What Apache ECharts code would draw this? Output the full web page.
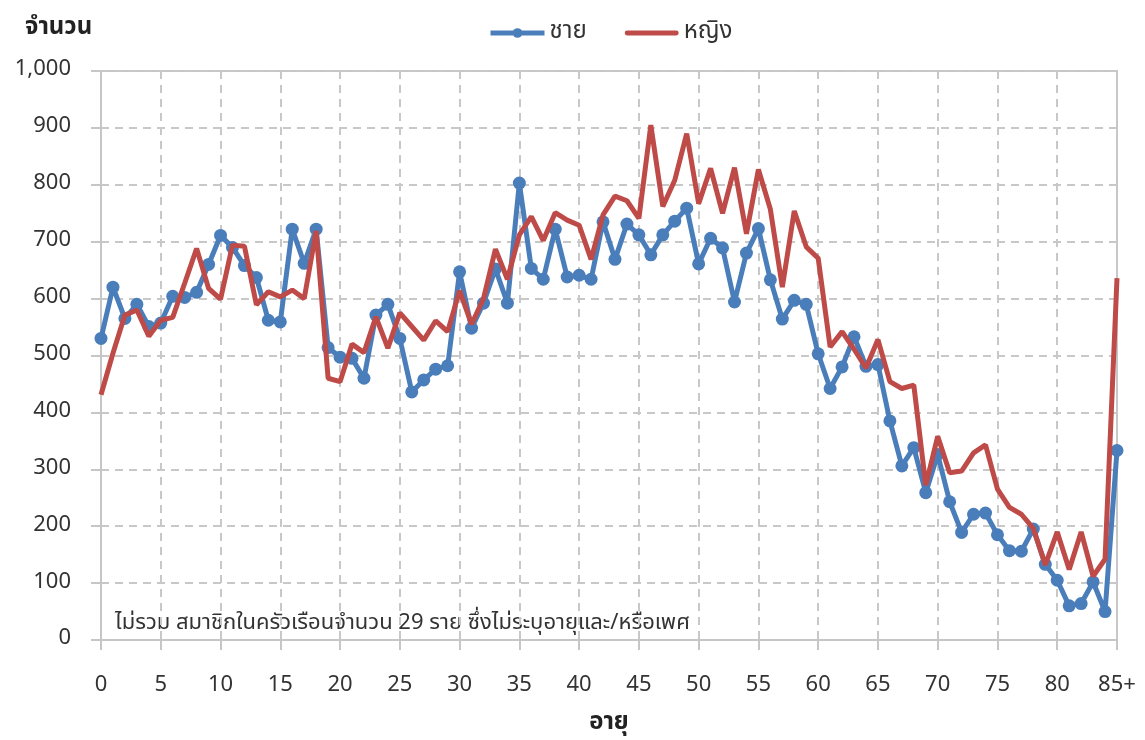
<!DOCTYPE html>
<html>
<head>
<meta charset="utf-8">
<script src="https://cdn.jsdelivr.net/npm/echarts@6/dist/echarts.min.js"></script>
<style>
  html, body { margin: 0; padding: 0; background: #fff; }
  #chart { width: 1145px; height: 740px; }
</style>
</head>
<body>
<div id="chart"></div>
<script>
const ages = []
for (let a = 0; a < 85; a++) ages.push(String(a))
ages.push('85+')

const male = [
  530, 620, 565, 590, 551, 557, 604, 602, 611, 660,
  711, 690, 658, 637, 562, 559, 722, 662, 722, 514,
  497, 495, 460, 571, 590, 530, 436, 457, 476, 482,
  647, 548, 592, 652, 592, 803, 653, 634, 722, 638,
  641, 634, 735, 669, 731, 712, 677, 712, 736, 759,
  661, 706, 689, 594, 680, 723, 633, 564, 597, 590,
  503, 442, 480, 533, 481, 484, 385, 306, 338, 259,
  326, 243, 189, 221, 223, 185, 157, 156, 195, 133,
  105, 60, 64, 102, 50, 333
]

const female = [
  431, 504, 571, 580, 534, 562, 567, 627, 688, 618,
  599, 694, 692, 589, 612, 603, 615, 600, 719, 460,
  454, 520, 505, 568, 513, 575, 551, 527, 561, 542,
  614, 555, 600, 687, 634, 712, 744, 702, 751, 738,
  729, 669, 747, 780, 772, 741, 905, 762, 808, 890,
  767, 829, 750, 830, 714, 827, 757, 620, 754, 691,
  671, 515, 542, 511, 478, 528, 454, 442, 448, 272,
  358, 294, 297, 329, 343, 265, 233, 221, 196, 132,
  190, 124, 190, 112, 142, 636
]

const FONT = 'Tahoma, "Noto Sans Thai", "Noto Sans", "DejaVu Sans", sans-serif'
const BLUE = '#4a7ebb'
const RED = '#be4b48'
const AXIS_GRAY = '#c6c6c6'

const chart = echarts.init(document.getElementById('chart'))

chart.setOption({
  animation: false,
  textStyle: { fontFamily: FONT },
  title: {
    text: 'จำนวน',
    left: 20,
    top: 12,
    textStyle: { fontSize: 24, fontWeight: 'bold', color: '#222', fontFamily: FONT },
  },
  legend: {
    top: 16,
    left: 483,
    itemWidth: 54,
    itemHeight: 12,
    itemGap: 38,
    lineStyle: { width: 5 },
    textStyle: { fontSize: 24, color: '#333', fontFamily: FONT },
    data: [
      { name: 'ชาย' },
      { name: 'หญิง', icon: 'path://M2,0 L52,0 A2.5,2.5 0 0 1 52,5 L2,5 A2.5,2.5 0 0 1 2,0 Z' },
    ],
  },
  grid: {
    left: 101,
    right: 28,
    top: 71,
    bottom: 100,
    outerBoundsMode: 'none',
    show: true,
    borderColor: AXIS_GRAY,
    borderWidth: 2,
  },
  graphic: [{
    type: 'text',
    left: 115,
    top: 614,
    style: {
      text: 'ไม่รวม สมาชิกในครัวเรือนจำนวน 29 ราย ซึ่งไม่ระบุอายุและ/หรือเพศ',
      fontSize: 22,
      fill: '#333',
      fontFamily: FONT,
    },
  }],
  xAxis: {
    type: 'category',
    data: ages,
    boundaryGap: false,
    name: 'อายุ',
    nameLocation: 'middle',
    nameGap: 72,
    nameTextStyle: { fontSize: 24, fontWeight: 'bold', color: '#222' },
    axisLine: { lineStyle: { color: AXIS_GRAY, width: 2 } },
    axisTick: { interval: 4, length: 10, lineStyle: { color: AXIS_GRAY, width: 2 } },
    axisLabel: { interval: 4, fontSize: 22, color: '#333', margin: 36 },
    splitLine: {
      show: true,
      interval: 4,
      lineStyle: { color: '#c8c8c8', type: [8, 6], width: 2 },
    },
  },
  yAxis: {
    type: 'value',
    min: 0,
    max: 1000,
    interval: 100,
    axisLine: { show: true, lineStyle: { color: AXIS_GRAY, width: 2 } },
    axisTick: { show: true, length: 10, lineStyle: { color: AXIS_GRAY, width: 2 } },
    axisLabel: {
      fontSize: 22,
      color: '#333',
      margin: 30,
      formatter: v => v.toLocaleString('en-US'),
    },
    splitLine: { lineStyle: { color: '#c8c8c8', type: [8, 6], width: 2 } },
  },
  series: [
    {
      name: 'ชาย',
      type: 'line',
      data: male,
      symbol: 'circle',
      symbolSize: 13,
      showAllSymbol: true,
      lineStyle: { color: BLUE, width: 5 },
      itemStyle: { color: BLUE },
      z: 2,
    },
    {
      name: 'หญิง',
      type: 'line',
      data: female,
      symbol: 'none',
      lineStyle: { color: RED, width: 5 },
      itemStyle: { color: RED },
      z: 3,
    },
  ],
})
</script>
</body>
</html>
